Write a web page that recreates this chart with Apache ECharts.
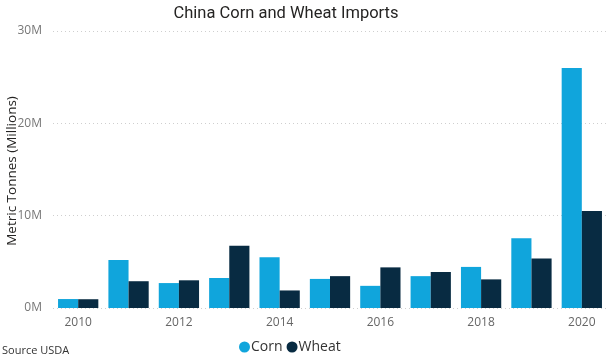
<!DOCTYPE html>
<html><head><meta charset="utf-8">
<script src="https://cdn.jsdelivr.net/npm/echarts@6/dist/echarts.min.js"></script>
<style>html,body{margin:0;padding:0;background:#fff}#c{width:608px;height:361px}</style>
</head><body><div id="c"></div>
<script>
const years = ['2010','2011','2012','2013','2014','2015','2016','2017','2018','2019','2020'];
const corn  = [0.97, 5.2, 2.7, 3.25, 5.5, 3.15, 2.4, 3.45, 4.45, 7.55, 26.0];
const wheat = [0.95, 2.9, 3.0, 6.75, 1.9, 3.45, 4.4, 3.9, 3.1, 5.35, 10.5];
const yTicks = [0, 10, 20, 30];
const yName = 'Metric Tonnes (Millions)';

const chart = echarts.init(document.getElementById('c'));
chart.setOption({
  animation: false,
  title: {text: 'China Corn and Wheat Imports', left: 281, top: 0, textAlign: 'center',
    textStyle: {fontFamily: 'Roboto', fontSize: 16.5, fontWeight: 'normal', color: '#252423'}},
  graphic: [
    {type: 'text', left: 2, top: 345, style: {text: 'Source USDA', font: '11px "Open Sans"', fill: '#333'}},
    {type: 'text', x: 12, y: 171, rotation: Math.PI / 2,
      style: {text: yName, font: '13.5px "Open Sans"', fill: '#252423', align: 'center', verticalAlign: 'middle'}}
  ],
  legend: {bottom: 2, left: 234, itemWidth: 11, itemHeight: 11, itemGap: 4, icon: 'circle',
    textStyle: {fontFamily: 'Open Sans', fontSize: 14, color: '#333', padding: [0,0,0,-4]}},
  grid: {left: 53, right: 1, top: 31, bottom: 53, containLabel: false, outerBoundsMode: 'none'},
  xAxis: {type: 'category', data: years,
    axisLine: {show: false}, axisTick: {show: false},
    axisLabel: {interval: 1, color: '#666', fontFamily: 'Open Sans', fontSize: 12, margin: 9}},
  yAxis: {type: 'value', min: yTicks[0], max: yTicks[yTicks.length-1], interval: 10,
    axisLabel: {formatter: v => v + 'M', color: '#777', fontFamily: 'Open Sans', fontSize: 12, margin: 11},
    splitLine: {lineStyle: {type: [1, 3], color: '#cfcfcf'}}},
  series: [
    {name: 'Corn', type: 'bar', data: corn, itemStyle: {color: '#10A5DC'}, barGap: '0%', barCategoryGap: '20%'},
    {name: 'Wheat', type: 'bar', data: wheat, itemStyle: {color: '#082B42'}}
  ]
});
</script></body></html>
